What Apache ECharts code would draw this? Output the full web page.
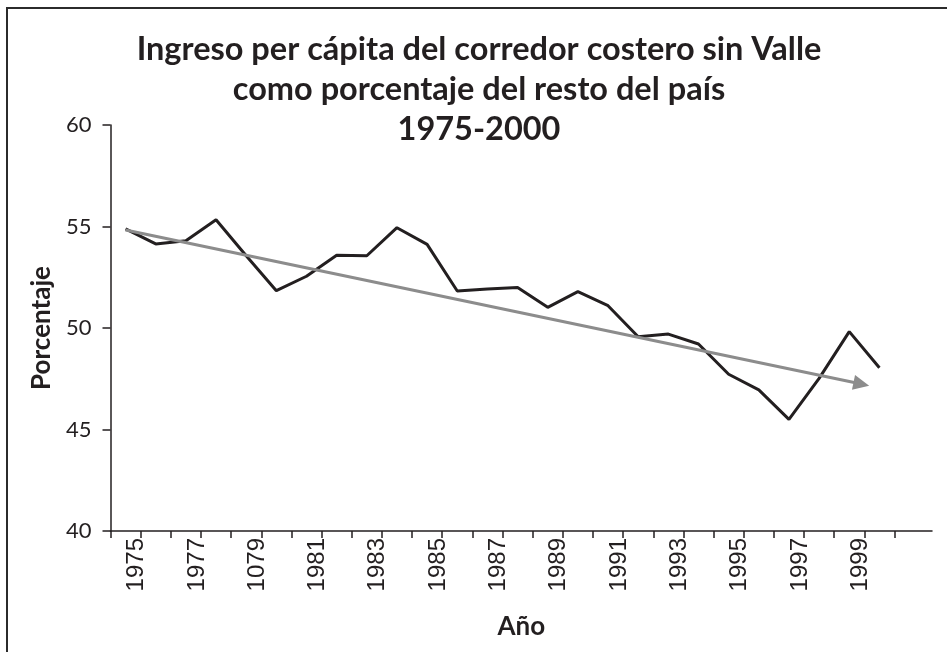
<!DOCTYPE html>
<html>
<head>
<meta charset="utf-8">
<script src="https://cdn.jsdelivr.net/npm/echarts@6/dist/echarts.min.js"></script>
<style>
  html, body { margin: 0; padding: 0; background: #fff; overflow: hidden; }
  #frame { position: absolute; left: 6px; top: 7px; width: 960px; height: 700px;
           border-left: 2px solid #2b2b2b; border-top: 2px solid #2b2b2b; box-sizing: border-box; }
  #chart { position: absolute; left: 0; top: 0; width: 947px; height: 652px; }
</style>
</head>
<body>
<div id="frame"></div>
<div id="chart"></div>
<script>
// Data
const titleLines = [
  'Ingreso per cápita del corredor costero sin Valle',
  'como porcentaje del resto del país',
  '1975-2000'
];
const yearLabels = ['1975','1976','1977','1978','1079','1980','1981','1982','1983','1984',
                    '1985','1986','1987','1988','1989','1990','1991','1992','1993','1994',
                    '1995','1996','1997','1998','1999','2000'];
const incomePct = [54.88, 54.14, 54.30, 55.33, 53.56, 51.84, 52.55, 53.58, 53.56, 54.94,
                   54.12, 51.82, 51.92, 52.00, 51.02, 51.79, 51.10, 49.57, 49.70, 49.21,
                   47.72, 46.95, 45.50, 47.52, 49.82, 48.04];
// trend arrow (x as category index, y as percent)
const trendStart = [0, 54.83];
const trendEnd = [24.4, 47.24];
const yTicks = { min: 40, max: 60, interval: 5 };
const xName = 'Año';
const yName = 'Porcentaje';

const chart = echarts.init(document.getElementById('chart'), null, { renderer: 'canvas' });
const titleFont = 'Lato';
const option = {
  animation: false,
  backgroundColor: 'transparent',
  title: {
    text: titleLines.join('\n'),
    left: 474, top: 25, textAlign: 'center',
    textStyle: { fontFamily: titleFont, fontWeight: 'bold', fontSize: 32.5, lineHeight: 40, color: '#231f20' }
  },
  grid: [
    { left: 110.5, top: 125, width: 821.5, height: 406 },
    { left: 110.5, top: 125, width: 784, height: 406 }
  ],
  xAxis: [
    { // full-length axis line and axis name
      gridIndex: 0, type: 'value', min: 0, max: 1,
      axisLine: { show: true, lineStyle: { color: '#231f20', width: 1.5 } },
      axisTick: { show: false }, axisLabel: { show: false }, splitLine: { show: false },
      name: xName, nameLocation: 'middle', nameGap: 83,
      nameTextStyle: { fontFamily: titleFont, fontWeight: 'bold', fontSize: 26, color: '#231f20' }
    },
    { // category ticks and year labels
      gridIndex: 1, type: 'category', data: yearLabels, boundaryGap: true,
      axisLine: { show: false },
      axisTick: { show: true, interval: 0, length: 7, lineStyle: { color: '#231f20', width: 1.5 } },
      axisLabel: { interval: 1, rotate: 90, margin: 7, fontSize: 24, fontFamily: 'Liberation Sans',
                   color: '#231f20', verticalAlign: 'top', lineHeight: 22 },
      splitLine: { show: false }
    },
    { // hidden value axis for the trend arrow
      gridIndex: 1, type: 'value', min: -0.5, max: yearLabels.length - 0.5, show: false
    }
  ],
  yAxis: [
    {
      gridIndex: 0, type: 'value', min: yTicks.min, max: yTicks.max, interval: yTicks.interval,
      axisLine: { show: true, lineStyle: { color: '#231f20', width: 1.5 } },
      axisTick: { show: true, length: 8, lineStyle: { color: '#231f20', width: 1.5 } },
      axisLabel: { fontSize: 22, fontFamily: titleFont, color: '#231f20', margin: 19 },
      splitLine: { show: false },
      name: yName, nameLocation: 'middle', nameRotate: 90, nameGap: 46,
      nameTextStyle: { fontFamily: titleFont, fontWeight: 'bold', fontSize: 26, color: '#231f20' }
    },
    {
      gridIndex: 1, type: 'value', min: yTicks.min, max: yTicks.max, interval: yTicks.interval, show: false
    }
  ],
  series: [
    {
      type: 'line', xAxisIndex: 1, yAxisIndex: 1, data: incomePct,
      symbol: 'none', lineStyle: { color: '#231f20', width: 3 }, z: 3
    },
    {
      type: 'line', xAxisIndex: 2, yAxisIndex: 1, data: [], symbol: 'none', z: 2,
      markLine: {
        silent: true, symbol: ['none', 'triangle'], symbolSize: [15, 16],
        label: { show: false },
        lineStyle: { color: '#8c8c8c', width: 3, type: 'solid' },
        data: [[ { coord: trendStart }, { coord: trendEnd } ]]
      }
    }
  ]
};
chart.setOption(option);
</script>
</body>
</html>
